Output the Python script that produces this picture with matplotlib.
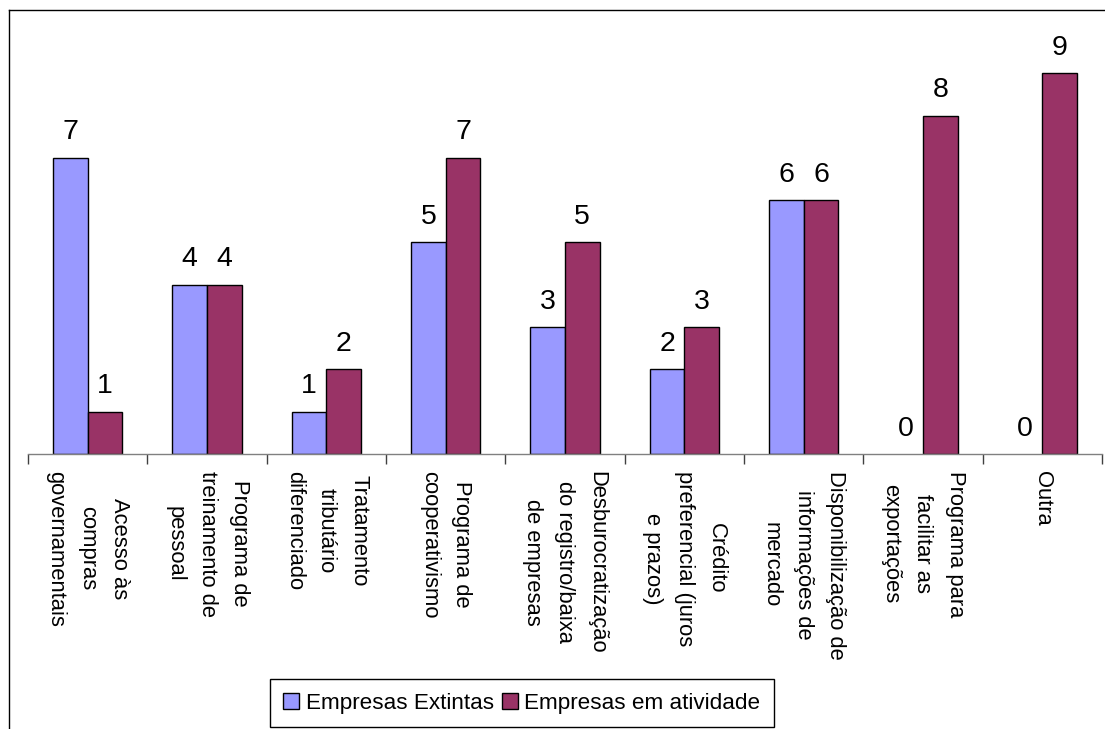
import numpy as np
import matplotlib
matplotlib.use("Agg")
import matplotlib.pyplot as plt
from matplotlib.lines import Line2D

plt.rcParams['font.family'] = ['Liberation Sans', 'DejaVu Sans']

categorias = [
    "Acesso às\ncompras\ngovernamentais",
    "Programa de\ntreinamento de\npessoal",
    "Tratamento\ntributário\ndiferenciado",
    "Programa de\ncooperativismo",
    "Desburocratização\ndo registro/baixa\nde empresas",
    "Crédito\npreferencial (juros\ne prazos)",
    "Disponibilização de\ninformações de\nmercado",
    "Programa para\nfacilitar as\nexportações",
    "Outra",
]
extintas = [7, 4, 1, 5, 3, 2, 6, 0, 0]
em_atividade = [1, 4, 2, 7, 5, 3, 6, 8, 9]
series_nomes = ["Empresas Extintas", "Empresas em atividade"]
cores = ["#9999FF", "#993366"]

fig = plt.figure(figsize=(11.05, 7.29), dpi=100)
ax = fig.add_axes([28 / 1105, 1 - 454 / 729, 1074 / 1105, 423 / 729])

x = np.arange(len(categorias))
w = 0.29
b1 = ax.bar(x - w / 2, extintas, w, color=cores[0], edgecolor="black", linewidth=1.0, label=series_nomes[0])
b2 = ax.bar(x + w / 2, em_atividade, w, color=cores[1], edgecolor="black", linewidth=1.0, label=series_nomes[1])

for bars, vals in ((b1, extintas), (b2, em_atividade)):
    for r, v in zip(bars, vals):
        if v == 0:
            r.set_linewidth(0)
        ax.annotate(str(v), (r.get_x() + r.get_width() / 2, v), xytext=(0, 9),
                    textcoords="offset points", ha="center", va="bottom", fontsize=20.5)

ax.set_xlim(-0.5, len(categorias) - 0.5)
ax.set_ylim(0, 10)
for s in ("top", "right", "left"):
    ax.spines[s].set_visible(False)
ax.spines["bottom"].set_color("#808080")
ax.spines["bottom"].set_linewidth(1.0)
ax.set_yticks([])

ax.set_xticks(x)
ax.set_xticklabels(categorias, rotation=270, ha="center", va="top",
                   multialignment="center", fontsize=15.8, linespacing=1.7)
ax.tick_params(axis="x", which="major", length=0, pad=12)
ax.set_xticks(np.arange(len(categorias) + 1) - 0.5, minor=True)
ax.tick_params(axis="x", which="minor", length=7, color="#404040", width=1)

fig.legend(handles=[b1, b2], labels=series_nomes, loc="center",
           bbox_to_anchor=(522 / 1105, 1 - 703 / 729), ncol=2, fontsize=16.2,
           frameon=True, fancybox=False, edgecolor="black", framealpha=1,
           handlelength=0.7, handleheight=0.7, handletextpad=0.3,
           columnspacing=0.35, borderpad=0.6, borderaxespad=0)

# moldura externa
fig.add_artist(Line2D([9 / 1105, 1.0], [1 - 10 / 729, 1 - 10 / 729], color="black", linewidth=1))
fig.add_artist(Line2D([9 / 1105, 9 / 1105], [1 - 10 / 729, 0.0], color="black", linewidth=1))

fig.savefig("out.png", dpi=100)
